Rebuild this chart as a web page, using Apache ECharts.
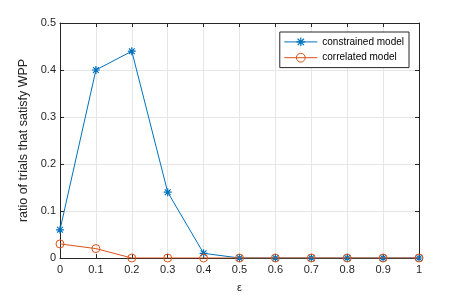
<!DOCTYPE html>
<html><head><meta charset="utf-8">
<script src="https://cdn.jsdelivr.net/npm/echarts@6/dist/echarts.min.js"></script>
<style>html,body{margin:0;padding:0;background:#fff}#c{width:463px;height:295px}</style>
</head><body><div id="c"></div>
<script>
const epsilon = [0, 0.1, 0.2, 0.3, 0.4, 0.5, 0.6, 0.7, 0.8, 0.9, 1];
const constrained = [0.06, 0.40, 0.44, 0.14, 0.01, 0, 0, 0, 0, 0, 0];
const correlated = [0.03, 0.02, 0, 0, 0, 0, 0, 0, 0, 0, 0];
const xTickLabels = ['0','0.1','0.2','0.3','0.4','0.5','0.6','0.7','0.8','0.9','1'];
const yTickLabels = ['0','0.1','0.2','0.3','0.4','0.5'];

const font = 'Liberation Sans, Arial, sans-serif';
const axisColor = '#262626';
const star = 'path://M0,-1L0,1M-1,0L1,0M-0.72,-0.72L0.72,0.72M-0.72,0.72L0.72,-0.72M0,-1';
const chart = echarts.init(document.getElementById('c'), null, {renderer:'canvas'});
const common = {
  min: 0,
  axisLine: {show: true, onZero: false, lineStyle: {color: axisColor, width: 1}},
  axisTick: {show: true, inside: true, length: 4, lineStyle: {color: axisColor}},
};
chart.setOption({
  animation: false,
  backgroundColor: '#fff',
  grid: {left: 60, right: 44, top: 23, bottom: 37, outerBoundsMode: 'none', containLabel: false},
  legend: {
    right: 54, top: 32, orient: 'vertical',
    backgroundColor: '#fff', borderColor: axisColor, borderWidth: 1,
    padding: [3, 5, 3, 4], itemGap: 2, itemWidth: 33, itemHeight: 11,
    textStyle: {fontFamily: font, fontSize: 10, color: '#000', lineHeight: 12},
    data: [
      {name: 'constrained model', itemStyle: {color: 'none', borderColor: '#0072BD', borderWidth: 1.2}, lineStyle: {width: 1}},
      {name: 'correlated model', itemStyle: {color: 'none', borderColor: '#D95319', borderWidth: 1}, lineStyle: {width: 1}}
    ]
  },
  xAxis: [
    Object.assign({}, common, {
      type: 'value', max: 1, interval: 0.1, position: 'bottom',
      name: 'ε', nameLocation: 'middle', nameGap: 24,
      nameTextStyle: {fontFamily: font, fontSize: 11, color: '#262626'},
      axisLabel: {fontFamily: font, fontSize: 11, color: '#262626', margin: 6,
        formatter: (v) => xTickLabels[Math.round(v * 10)] || ''},
      splitLine: {show: true, lineStyle: {color: '#e6e6e6'}}
    }),
    Object.assign({}, common, {
      type: 'value', max: 1, interval: 0.1, position: 'top',
      axisLabel: {show: false}, splitLine: {show: false}
    })
  ],
  yAxis: [
    Object.assign({}, common, {
      type: 'value', max: 0.5, interval: 0.1, position: 'left',
      name: 'ratio of trials that satisfy WPP', nameLocation: 'middle', nameGap: 22,
      nameTextStyle: {fontFamily: font, fontSize: 12.5, color: '#262626'},
      axisLabel: {fontFamily: font, fontSize: 11, color: '#262626', margin: 4,
        formatter: (v) => yTickLabels[Math.round(v * 10)] || ''},
      splitLine: {show: true, lineStyle: {color: '#e6e6e6'}}
    }),
    Object.assign({}, common, {
      type: 'value', max: 0.5, interval: 0.1, position: 'right',
      axisLabel: {show: false}, splitLine: {show: false}
    })
  ],
  series: [
    {
      name: 'constrained model', type: 'line', xAxisIndex: 0, yAxisIndex: 0,
      data: epsilon.map((x, i) => [x, constrained[i]]),
      symbol: star, symbolSize: 8, showAllSymbol: true,
      lineStyle: {color: '#0072BD', width: 1},
      itemStyle: {color: 'none', borderColor: '#0072BD', borderWidth: 1.2},
      z: 3
    },
    {
      name: 'correlated model', type: 'line', xAxisIndex: 0, yAxisIndex: 0,
      data: epsilon.map((x, i) => [x, correlated[i]]),
      symbol: 'circle', symbolSize: 8, showAllSymbol: true,
      lineStyle: {color: '#D95319', width: 1},
      itemStyle: {color: 'none', borderColor: '#D95319', borderWidth: 1},
      z: 4
    }
  ]
});
</script></body></html>
